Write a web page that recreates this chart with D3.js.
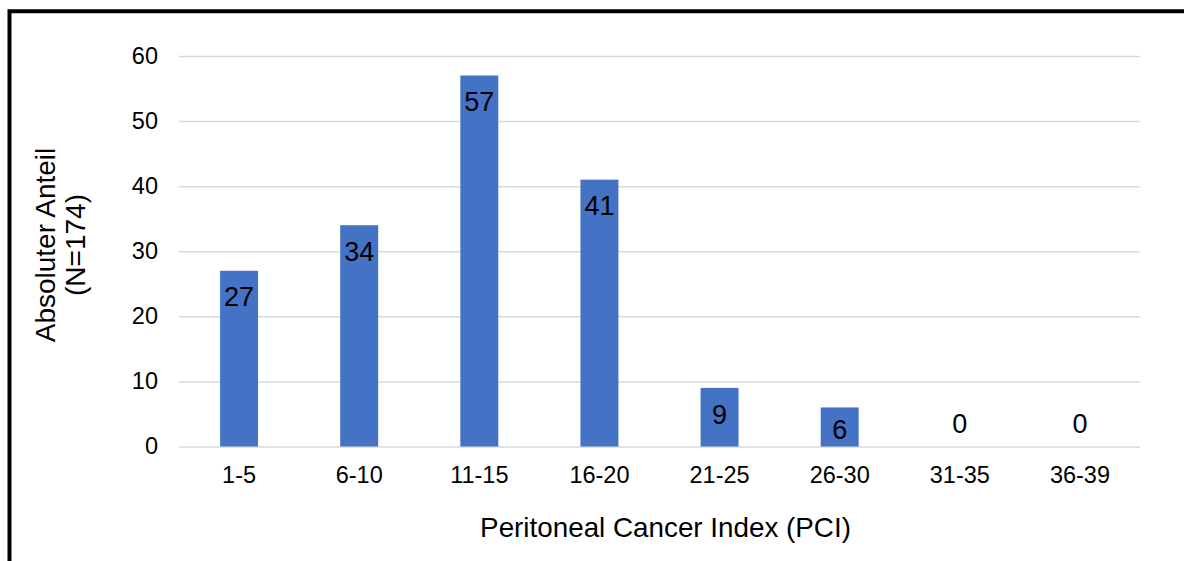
<!DOCTYPE html>
<html>
<head>
<meta charset="utf-8">
<script src="https://cdn.jsdelivr.net/npm/d3@7/dist/d3.min.js"></script>
<style>
  html, body { margin: 0; padding: 0; background: #fff; }
  svg { display: block; font-family: "Liberation Sans", Arial, Helvetica, sans-serif; }
</style>
</head>
<body>
<svg id="chart" width="1184" height="561"></svg>
<script>
// PCI groups and patient counts
const categories = ["1-5", "6-10", "11-15", "16-20", "21-25", "26-30", "31-35", "36-39"];
const counts = [27, 34, 57, 41, 9, 6, 0, 0];
const yTicks = [0, 10, 20, 30, 40, 50, 60];
const xTitle = "Peritoneal Cancer Index (PCI)";
const yTitleLines = ["Absoluter Anteil", "(N=174)"];

const svg = d3.select("#chart");
const W = 1184, H = 561;
const margin = { left: 179, right: 44, top: 56, bottom: 114.5 };
const plotW = W - margin.left - margin.right;
const plotH = H - margin.top - margin.bottom;

svg.append("rect").attr("width", W).attr("height", H).attr("fill", "#fff");

// frame around the figure (open on right and bottom)
svg.append("path")
  .attr("d", `M9.5,${H + 5} L9.5,11.3 L${W + 5},11.3`)
  .attr("fill", "none")
  .attr("stroke", "#000")
  .attr("stroke-width", 4);

const g = svg.append("g").attr("transform", `translate(${margin.left},${margin.top})`);

const x = d3.scaleBand().domain(categories).range([0, plotW]).paddingInner(0.684).paddingOuter(0.342);
const y = d3.scaleLinear().domain([0, 60]).range([plotH, 0]);

// horizontal gridlines with value labels
const yAxis = g.append("g")
  .call(d3.axisLeft(y).tickValues(yTicks).tickSizeInner(-plotW).tickSizeOuter(0).tickPadding(21));
yAxis.select(".domain").remove();
yAxis.selectAll(".tick line").attr("stroke", "#d9d9d9").attr("stroke-width", 1.5);
yAxis.selectAll(".tick text")
  .attr("font-size", 23.5)
  .attr("fill", "#000")
  .attr("dy", "0.30em");

// category labels
const xAxis = g.append("g")
  .attr("transform", `translate(0,${plotH})`)
  .call(d3.axisBottom(x).tickSize(0).tickPadding(20));
xAxis.select(".domain").remove();
xAxis.selectAll(".tick text").attr("font-size", 23.5).attr("fill", "#000");

// bars
g.selectAll("rect.bar")
  .data(counts)
  .join("rect")
  .attr("class", "bar")
  .attr("x", (d, i) => x(categories[i]))
  .attr("y", d => y(d))
  .attr("width", x.bandwidth())
  .attr("height", d => plotH - y(d))
  .attr("fill", "#4472C4");

// value labels inside the top of each bar
g.selectAll("text.val")
  .data(counts)
  .join("text")
  .attr("class", "val")
  .attr("x", (d, i) => x(categories[i]) + x.bandwidth() / 2)
  .attr("y", d => d > 0 ? Math.min(y(d) + 26, plotH - 17.5) : plotH - 23.5)
  .attr("dy", "0.36em")
  .attr("text-anchor", "middle")
  .attr("font-size", 27)
  .attr("fill", "#000")
  .text(d => d);

// axis titles
svg.append("text")
  .attr("x", margin.left + plotW / 2 + 6)
  .attr("y", 537)
  .attr("text-anchor", "middle")
  .attr("font-size", 27.8)
  .attr("fill", "#000")
  .text(xTitle);

const yt = svg.append("text")
  .attr("transform", "translate(45,245) rotate(-90)")
  .attr("text-anchor", "middle")
  .attr("font-size", 28)
  .attr("fill", "#000");
yTitleLines.forEach((line, i) => {
  yt.append("tspan")
    .attr("x", 0)
    .attr("y", i * 30)
    .attr("dy", "0.36em")
    .text(line);
});
</script>
</body>
</html>
